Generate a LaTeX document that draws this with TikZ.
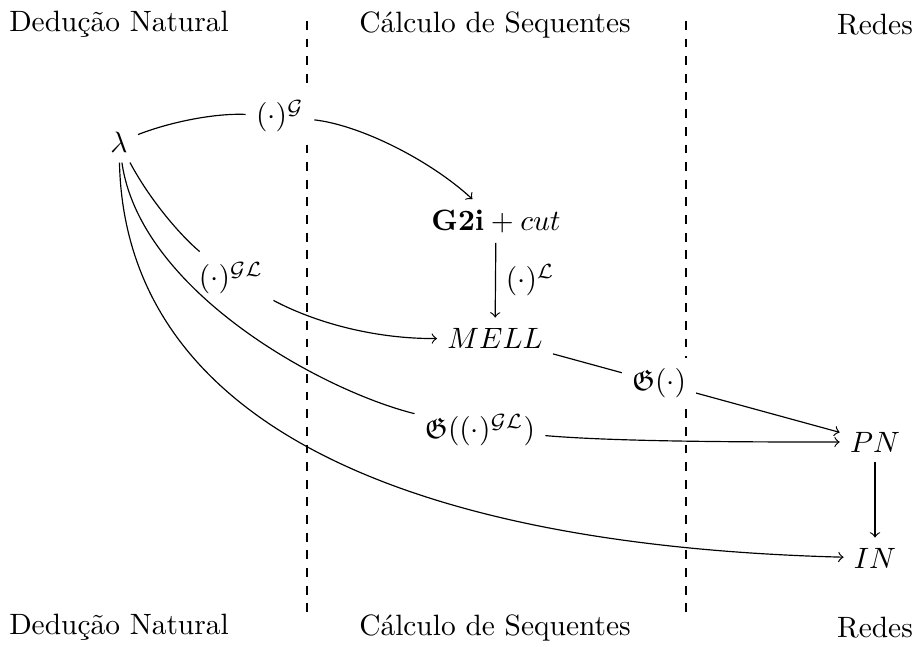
\documentclass[tikz,border=0pt]{standalone}
\usepackage{amssymb}
\begin{document}
\begin{tikzpicture}[x=0.34pt,y=-0.34pt,
  obj/.style={inner sep=3.33pt},
  lbl/.style={fill=white,inner sep=3.33pt},
  arr/.style={->},
  sepline/.style={dashed}]
\useasboundingbox (0,0) rectangle (915,646);
% headings
\node (dnT) at (119,24.6) {Dedução Natural};
\node (csT) at (495,24.6) {Cálculo de Sequentes};
\node (rdT) at (875,24.6) {Redes};
\node (dnB) at (119,627.6) {Dedução Natural};
\node (csB) at (495,627.6) {Cálculo de Sequentes};
\node (rdB) at (875,627.6) {Redes};
% separators
\coordinate (s1t) at (307,21); \coordinate (s1b) at (307,621);
\coordinate (s2t) at (686,21); \coordinate (s2b) at (686,621);
\draw[sepline] (s1t) -- (s1b);
\draw[sepline] (s2t) -- (s2b);
% objects
\node[obj] (lam) at (119,142) {$\lambda$};
\node[obj] (g2i) at (496,221) {$\mathbf{G2i}+cut$};
\node[obj] (mell) at (495,338) {$MELL$};
\node[obj] (pn) at (875,442) {$PN$};
\node[obj] (in) at (875,558) {$IN$};
% labels on curves
\node[lbl] (l1) at (280,116) {$(\cdot)^{\mathcal{G}}$};
\node[lbl] (l2) at (231,278) {$(\cdot)^{\mathcal{GL}}$};
\node[lbl] (l3) at (480,430) {$\mathfrak{G}((\cdot)^{\mathcal{GL}})$};
% arrows
\draw (lam) .. controls (170,122) and (215,113) .. (l1);
\draw[arr] (l1) .. controls (360,125) and (430,160) .. (g2i);
\draw (lam) .. controls (150,200) and (180,235) .. (l2);
\draw[arr] (l2) .. controls (320,325) and (380,339) .. (mell);
\draw (lam) .. controls (140,290) and (320,390) .. (l3);
\draw[arr] (l3) .. controls (620,442) and (760,442) .. (pn);
\draw[arr] (lam) .. controls (125,410) and (380,545) .. (in);
\draw[arr] (g2i) -- node[right] {$(\cdot)^{\mathcal{L}}$} (mell);
\draw[arr] (mell) -- node[lbl,pos=0.37] {$\mathfrak{G}(\cdot)$} (pn);
\draw[arr] (pn) -- (in);
\end{tikzpicture}
\end{document}
